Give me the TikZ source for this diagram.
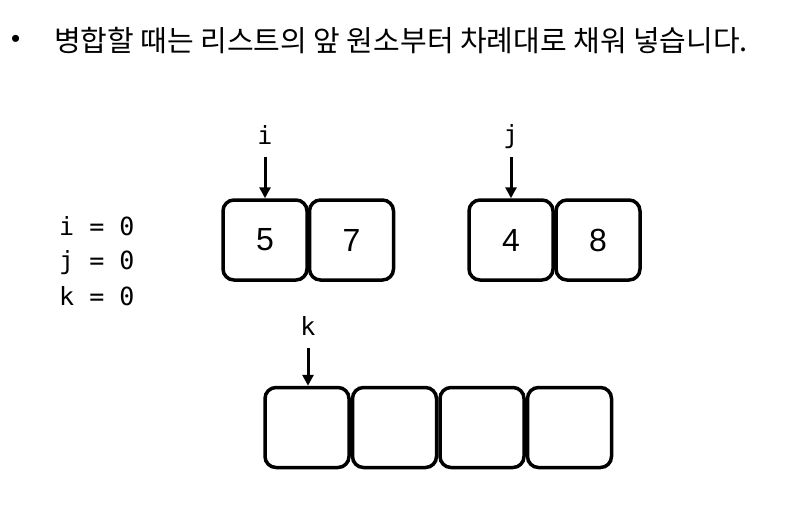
\documentclass[tikz,border=0pt]{standalone}
\usepackage{fontspec}
\setmainfont{Liberation Sans}
\newfontfamily\krfont{Noto Sans CJK KR}
\newfontfamily\monofont{DejaVu Sans Mono}
\usetikzlibrary{arrows.meta}
\begin{document}
\begin{tikzpicture}[x=1pt,y=-1pt,
  cell/.style={draw, line width=3.5pt, rounded corners=11pt, minimum width=84pt, minimum height=80pt, inner sep=0pt, font=\fontsize{32}{36}\selectfont},
  ptr/.style={line width=3pt, -{Triangle[width=11pt,length=11pt]}},
  lbl/.style={inner sep=0pt, font=\monofont\fontsize{25}{28}\selectfont},
  var/.style={inner sep=0pt, anchor=base west, font=\monofont\fontsize{25}{28}\selectfont}]
\useasboundingbox (0,0) rectangle (796,504);
% title
\node[inner sep=0pt, anchor=west, font=\fontsize{26}{30}\selectfont] (bul) at (11,41) {•};
\node[inner sep=0pt, anchor=west, font=\krfont\fontsize{29}{32}\selectfont] (title) at (54,41) {병합할 때는 리스트의 앞 원소부터 차례대로 채워 넣습니다.};
% variables
\node[var] (vi) at (59,235) {i = 0};
\node[var] (vj) at (59,269) {j = 0};
\node[var] (vk) at (59,305) {k = 0};
% first list
\node[cell] (a1) at (265,240) {5};
\node[cell] (a2) at (351.5,240) {7};
% second list
\node[cell] (b1) at (511,240) {4};
\node[cell] (b2) at (598,240) {8};
% result list
\node[cell] (c1) at (307,427.5) {};
\node[cell] (c2) at (394.5,427.5) {};
\node[cell] (c3) at (482,427.5) {};
\node[cell] (c4) at (569.5,427.5) {};
% pointers
\node[lbl] (li) at (265,135) {i};
\node[lbl] (lj) at (511,137) {j};
\node[lbl] (lk) at (308,326) {k};
\coordinate (si) at (265,157);
\coordinate (sj) at (511,157);
\coordinate (sk) at (308,348);
\draw[ptr] (si) -- (a1.north);
\draw[ptr] (sj) -- (b1.north);
\draw[ptr] (sk) -- (sk |- c1.north);
\end{tikzpicture}
\end{document}
